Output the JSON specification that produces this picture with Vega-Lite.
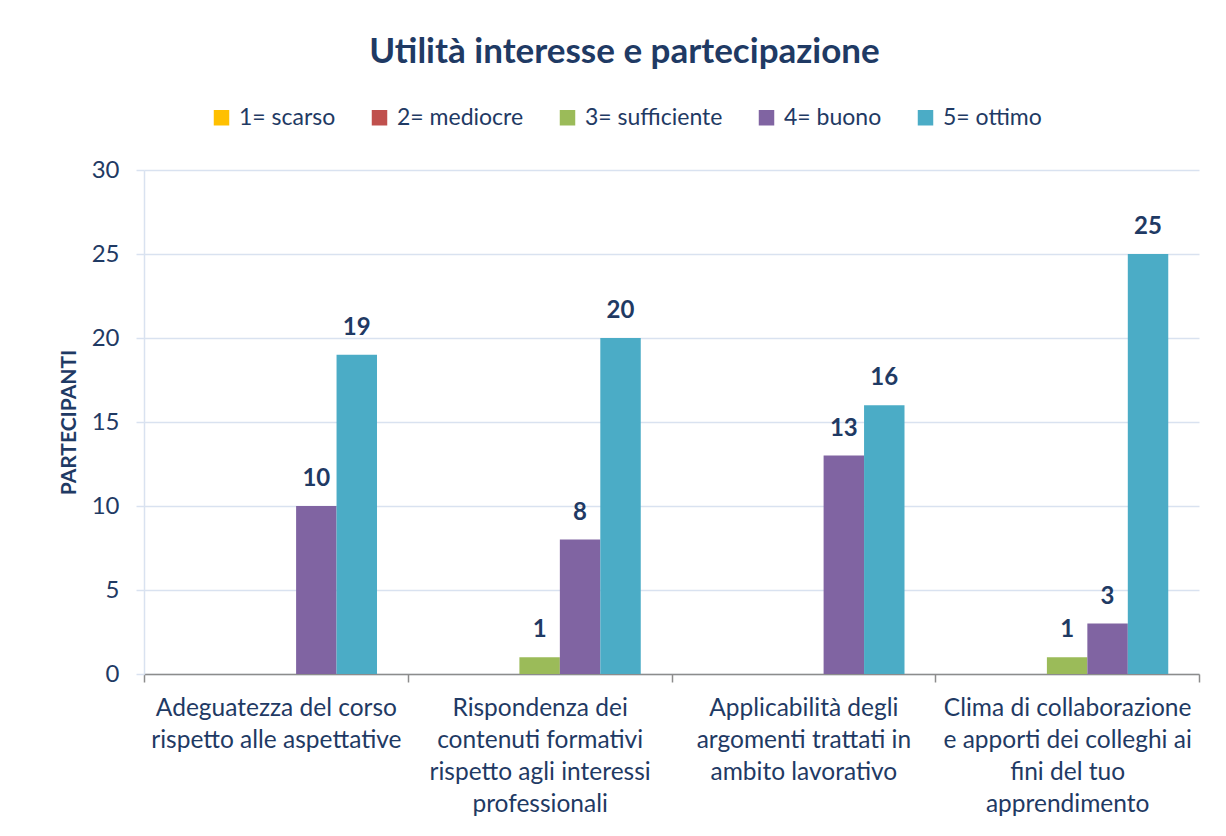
{
  "$schema": "https://vega.github.io/schema/vega-lite/v6.json",
  "width": 1055,
  "height": 504,
  "autosize": "none",
  "padding": {"left": 144, "top": 170, "right": 27, "bottom": 162},
  "background": "white",
  "title": {
    "text": "Utilità interesse e partecipazione",
    "font": "Lato",
    "fontSize": 35,
    "fontWeight": "bold",
    "color": "#1f3a64",
    "anchor": "middle",
    "dx": -47,
    "offset": 36
  },
  "config": {
    "view": {"stroke": null},
    "font": "Lato"
  },
  "data": {
    "values": [
      {"domanda": "Adeguatezza del corso|rispetto alle aspettative", "giudizio": "4= buono", "n": 10},
      {"domanda": "Adeguatezza del corso|rispetto alle aspettative", "giudizio": "5= ottimo", "n": 19},
      {"domanda": "Rispondenza dei|contenuti formativi|rispetto agli interessi|professionali", "giudizio": "3= sufficiente", "n": 1},
      {"domanda": "Rispondenza dei|contenuti formativi|rispetto agli interessi|professionali", "giudizio": "4= buono", "n": 8},
      {"domanda": "Rispondenza dei|contenuti formativi|rispetto agli interessi|professionali", "giudizio": "5= ottimo", "n": 20},
      {"domanda": "Applicabilità degli|argomenti trattati in|ambito lavorativo", "giudizio": "4= buono", "n": 13},
      {"domanda": "Applicabilità degli|argomenti trattati in|ambito lavorativo", "giudizio": "5= ottimo", "n": 16},
      {"domanda": "Clima di collaborazione|e apporti dei colleghi ai|fini del tuo|apprendimento", "giudizio": "3= sufficiente", "n": 1},
      {"domanda": "Clima di collaborazione|e apporti dei colleghi ai|fini del tuo|apprendimento", "giudizio": "4= buono", "n": 3},
      {"domanda": "Clima di collaborazione|e apporti dei colleghi ai|fini del tuo|apprendimento", "giudizio": "5= ottimo", "n": 25}
    ]
  },
  "encoding": {
    "x": {
      "field": "domanda",
      "type": "nominal",
      "sort": null,
      "scale": {"paddingInner": 0, "paddingOuter": 0},
      "axis": {
        "title": null,
        "labelAngle": 0,
        "labelExpr": "split(datum.label, '|')",
        "labelFont": "Lato",
        "labelFontSize": 24.5,
        "labelColor": "#1f3a64",
        "labelLineHeight": 32,
        "labelPadding": 14,
        "labelLimit": 400,
        "domainColor": "#8c8c8c",
        "domainWidth": 1.5,
        "tickColor": "#8c8c8c",
        "tickWidth": 1.5,
        "tickSize": 8,
        "tickBand": "extent",
        "grid": false
      }
    },
    "xOffset": {
      "field": "giudizio",
      "type": "nominal",
      "scale": {
        "domain": ["1= scarso", "2= mediocre", "3= sufficiente", "4= buono", "5= ottimo"],
        "paddingInner": 0,
        "paddingOuter": 0.76
      }
    },
    "y": {
      "field": "n",
      "type": "quantitative",
      "scale": {"domain": [0, 30]},
      "axis": {
        "title": "PARTECIPANTI",
        "titleFont": "Lato",
        "titleFontSize": 21,
        "titleFontWeight": "bold",
        "titleColor": "#1f3a64",
        "titlePadding": 12,
        "values": [0, 5, 10, 15, 20, 25, 30],
        "labelFont": "Lato",
        "labelFontSize": 24,
        "labelColor": "#1f3a64",
        "labelPadding": 17,
        "domainColor": "#d9e2f0",
        "domainWidth": 1.5,
        "tickColor": "#d9e2f0",
        "tickWidth": 1.5,
        "tickSize": 8,
        "gridColor": "#d9e2f0",
        "gridWidth": 1.5
      }
    }
  },
  "layer": [
    {
      "mark": {"type": "bar"},
      "encoding": {
        "color": {
          "field": "giudizio",
          "type": "nominal",
          "scale": {
            "domain": ["1= scarso", "2= mediocre", "3= sufficiente", "4= buono", "5= ottimo"],
            "range": ["#ffc000", "#c0504d", "#9bbb59", "#8064a2", "#4bacc6"]
          },
          "legend": {
            "title": null,
            "orient": "none",
            "direction": "horizontal",
            "legendX": 66,
            "legendY": -64,
            "padding": 0,
            "symbolType": "square",
            "symbolSize": 240,
            "symbolStrokeWidth": 0,
            "symbolOpacity": 1,
            "labelFont": "Lato",
            "labelFontSize": 23,
            "labelColor": "#1f3a64",
            "labelOffset": 6,
            "columnPadding": 32,
            "labelLimit": 300
          }
        }
      }
    },
    {
      "mark": {
        "type": "text",
        "baseline": "middle",
        "dy": -27,
        "font": "Lato",
        "fontSize": 24,
        "fontWeight": "bold",
        "color": "#1f3a64"
      },
      "encoding": {
        "text": {"field": "n", "type": "quantitative"}
      }
    }
  ]
}
